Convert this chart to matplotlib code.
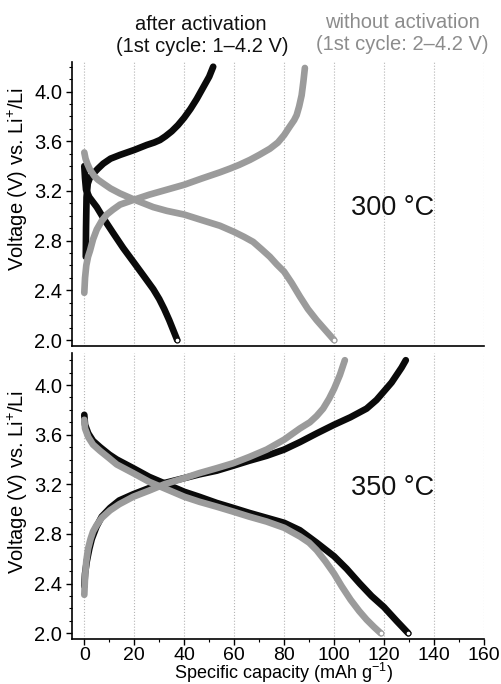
import matplotlib.pyplot as plt
from matplotlib.ticker import MultipleLocator

plt.rcParams['font.family'] = ['Liberation Sans', 'DejaVu Sans']
plt.rcParams['mathtext.fontset'] = 'custom'
plt.rcParams['mathtext.rm'] = 'Liberation Sans'
plt.rcParams['mathtext.it'] = 'Liberation Sans'

# 300 °C, after activation (black)
cap_300_act_ch = [0.6, 0.7, 0.9, 1.4, 2.3, 3.6, 5.5, 7.6, 10.5, 14.3, 20, 25, 28, 30.3, 32.5, 35, 37.5, 40, 42.5, 45,
                  47.5, 50, 51.6]
v_300_act_ch = [2.67, 2.90, 3.15, 3.26, 3.31, 3.34, 3.38, 3.42, 3.46, 3.49, 3.53, 3.57, 3.59, 3.61, 3.64, 3.68, 3.73,
                3.79, 3.86, 3.94, 4.03, 4.12, 4.20]
cap_300_act_dis = [0, 0.3, 0.7, 2, 3.5, 5, 8, 11.6, 15.6, 20, 24, 27.6, 30, 32, 34, 35.6, 37.2]
v_300_act_dis = [3.40, 3.30, 3.21, 3.15, 3.11, 3.07, 2.97, 2.86, 2.74, 2.62, 2.51, 2.41, 2.33, 2.25, 2.16, 2.08, 2.0]

# 300 °C, without activation (grey)
cap_300_no_ch = [0, 0.3, 0.8, 1.5, 2.3, 3.5, 5, 7, 9, 11.5, 14.3, 20, 26, 33, 40, 47, 54.3, 58.3, 62, 66.3, 70, 74.3,
                 77.5, 80, 82.3, 84, 85, 86, 87, 87.7, 88.3]
v_300_no_ch = [2.38, 2.50, 2.60, 2.67, 2.72, 2.81, 2.89, 2.96, 3.01, 3.05, 3.09, 3.13, 3.17, 3.21, 3.25, 3.30, 3.35, 3.38,
               3.41, 3.45, 3.49, 3.54, 3.59, 3.65, 3.72, 3.77, 3.81, 3.88, 3.97, 4.08, 4.19]
cap_300_no_dis = [0, 0.5, 1.2, 2.3, 4, 5.5, 7.6, 10.5, 14.3, 20, 27.6, 33, 40, 46.3, 54.3, 60, 64, 67.6, 71, 74.3, 77, 80,
                  83, 86.3, 89.5, 93, 96.5, 100]
v_300_no_dis = [3.51, 3.46, 3.42, 3.37, 3.32, 3.29, 3.26, 3.22, 3.18, 3.13, 3.07, 3.04, 3.01, 2.97, 2.92, 2.87, 2.83, 2.79,
                2.73, 2.67, 2.61, 2.55, 2.46, 2.35, 2.25, 2.16, 2.08, 2.0]

# 350 °C, after activation (black)
cap_350_act_ch = [0, 0.3, 1.0, 2, 3, 4.9, 7, 10.3, 14, 19.6, 26, 32, 40, 46, 53, 59.6, 66, 73, 80, 86.3, 93, 100, 106.5,
                  113, 117, 120, 123, 125, 127, 128.7]
v_350_act_ch = [2.38, 2.48, 2.58, 2.68, 2.76, 2.86, 2.94, 3.01, 3.07, 3.12, 3.17, 3.21, 3.25, 3.28, 3.31, 3.35, 3.39, 3.43,
                3.48, 3.54, 3.61, 3.68, 3.74, 3.81, 3.88, 3.95, 4.02, 4.08, 4.14, 4.20]
cap_350_act_dis = [0, 0.3, 1.6, 3.5, 6.3, 10, 13, 19.6, 26, 33, 40, 46, 53, 59.6, 66, 73, 80, 86.3, 93, 100, 105, 110.3,
                   115, 120, 125, 129.7]
v_350_act_dis = [3.76, 3.68, 3.61, 3.55, 3.50, 3.44, 3.40, 3.33, 3.26, 3.20, 3.14, 3.10, 3.05, 3.01, 2.97, 2.93, 2.89, 2.83,
                 2.73, 2.62, 2.52, 2.40, 2.30, 2.21, 2.10, 2.0]

# 350 °C, without activation (grey)
cap_350_no_ch = [0, 0.3, 0.8, 1.5, 2.5, 3.5, 4.9, 7, 10.3, 14, 19.6, 26, 32, 40, 46, 53, 59.6, 66, 73, 80, 86.3, 90.3, 93,
                 95.6, 98, 100, 102.3, 104.3]
v_350_no_ch = [2.31, 2.45, 2.58, 2.68, 2.76, 2.82, 2.87, 2.93, 2.99, 3.04, 3.10, 3.15, 3.20, 3.25, 3.29, 3.33, 3.37, 3.42,
               3.48, 3.56, 3.65, 3.70, 3.75, 3.81, 3.89, 3.97, 4.08, 4.20]
cap_350_no_dis = [0, 0.3, 1.6, 3.5, 6.3, 10, 13, 19.6, 26, 33, 40, 46, 53, 59.6, 66, 73, 80, 86.3, 90, 93, 96.5, 100, 103,
                  106.6, 110, 113, 116, 118.7]
v_350_no_dis = [3.72, 3.65, 3.58, 3.52, 3.47, 3.41, 3.36, 3.29, 3.22, 3.16, 3.10, 3.06, 3.02, 2.98, 2.94, 2.90, 2.85, 2.78,
                2.73, 2.67, 2.58, 2.48, 2.38, 2.27, 2.18, 2.11, 2.05, 2.0]

BLACK = '#0a0a0a'
GREY = '#9b9b9b'

fig = plt.figure(figsize=(5.01, 6.84), dpi=100)
ax1 = fig.add_axes([72/501, 1-346/684, 412/501, 284/684])
ax2 = fig.add_axes([72/501, 1-639/684, 412/501, 286/684])


def curves(ax, ch_a, dis_a, ch_g, dis_g):
    for (x, y), c in [(ch_a, BLACK), (dis_a, BLACK), (ch_g, GREY), (dis_g, GREY)]:
        ax.plot(x, y, color=c, lw=4.8, solid_capstyle='round', solid_joinstyle='round', zorder=3)
    for (x, y), c in [(dis_a, BLACK), (dis_g, GREY)]:
        ax.plot(x[-1], y[-1], 'o', ms=3.5, mfc='white', mec=c, mew=0.8, zorder=4)


curves(ax1, (cap_300_act_ch, v_300_act_ch), (cap_300_act_dis, v_300_act_dis),
       (cap_300_no_ch, v_300_no_ch), (cap_300_no_dis, v_300_no_dis))
curves(ax2, (cap_350_act_ch, v_350_act_ch), (cap_350_act_dis, v_350_act_dis),
       (cap_350_no_ch, v_350_no_ch), (cap_350_no_dis, v_350_no_dis))

ax1.set_ylim(1.952, 4.238)
ax2.set_ylim(1.954, 4.258)

for ax in (ax1, ax2):
    ax.set_xlim(-4.92, 160)
    ax.spines['top'].set_visible(False)
    ax.spines['right'].set_visible(False)
    ax.spines['left'].set_linewidth(1.2)
    ax.spines['bottom'].set_linewidth(1.2)
    ax.xaxis.set_major_locator(MultipleLocator(20))
    ax.xaxis.set_minor_locator(MultipleLocator(10))
    ax.yaxis.set_major_locator(MultipleLocator(0.4))
    ax.yaxis.set_minor_locator(MultipleLocator(0.1))
    ax.yaxis.set_major_formatter(plt.FormatStrFormatter('%.1f'))
    ax.tick_params(axis='y', which='major', direction='out', length=4, width=1, labelsize=14.5, pad=3)
    ax.tick_params(axis='y', which='minor', direction='out', length=2.5, width=0.8)
    ax.grid(True, axis='x', which='major', color='#b5b5b5', linestyle=':', linewidth=0.8, zorder=0)

ax1.tick_params(axis='x', which='both', bottom=False, labelbottom=False)
ax2.tick_params(axis='x', which='major', direction='out', length=4, width=1, labelsize=14, pad=1.5)
ax2.tick_params(axis='x', which='minor', direction='out', length=2.5, width=0.8)

fig.text(393/501, 1-208/684, '300 °C', fontsize=19.5, ha='center', va='center', color='#111111')
fig.text(393/501, 1-488/684, '350 °C', fontsize=19.5, ha='center', va='center', color='#111111')

fig.text(201/501, 1-25/684, 'after activation', fontsize=14.5, ha='center', va='center', color='#111111')
fig.text(202/501, 1-47/684, '(1st cycle: 1–4.2 V)', fontsize=14.5, ha='center', va='center', color='#111111')
fig.text(402/501, 1-23/684, 'without activation', fontsize=14.5, ha='center', va='center', color='#8c8c8c')
fig.text(402/501, 1-45/684, '(1st cycle: 2–4.2 V)', fontsize=14.5, ha='center', va='center', color='#8c8c8c')

ylab = 'Voltage (V) vs. Li$^{+}$/Li'
fig.text(18/501, 1-179/684, ylab, fontsize=14.5, rotation=90, ha='center', va='center')
fig.text(18/501, 1-482/684, ylab, fontsize=14.5, rotation=90, ha='center', va='center')
fig.text(284/501, 1-679/684, 'Specific capacity (mAh g$^{-1}$)', fontsize=13, ha='center', va='baseline')

fig.savefig('out.png', dpi=100)
